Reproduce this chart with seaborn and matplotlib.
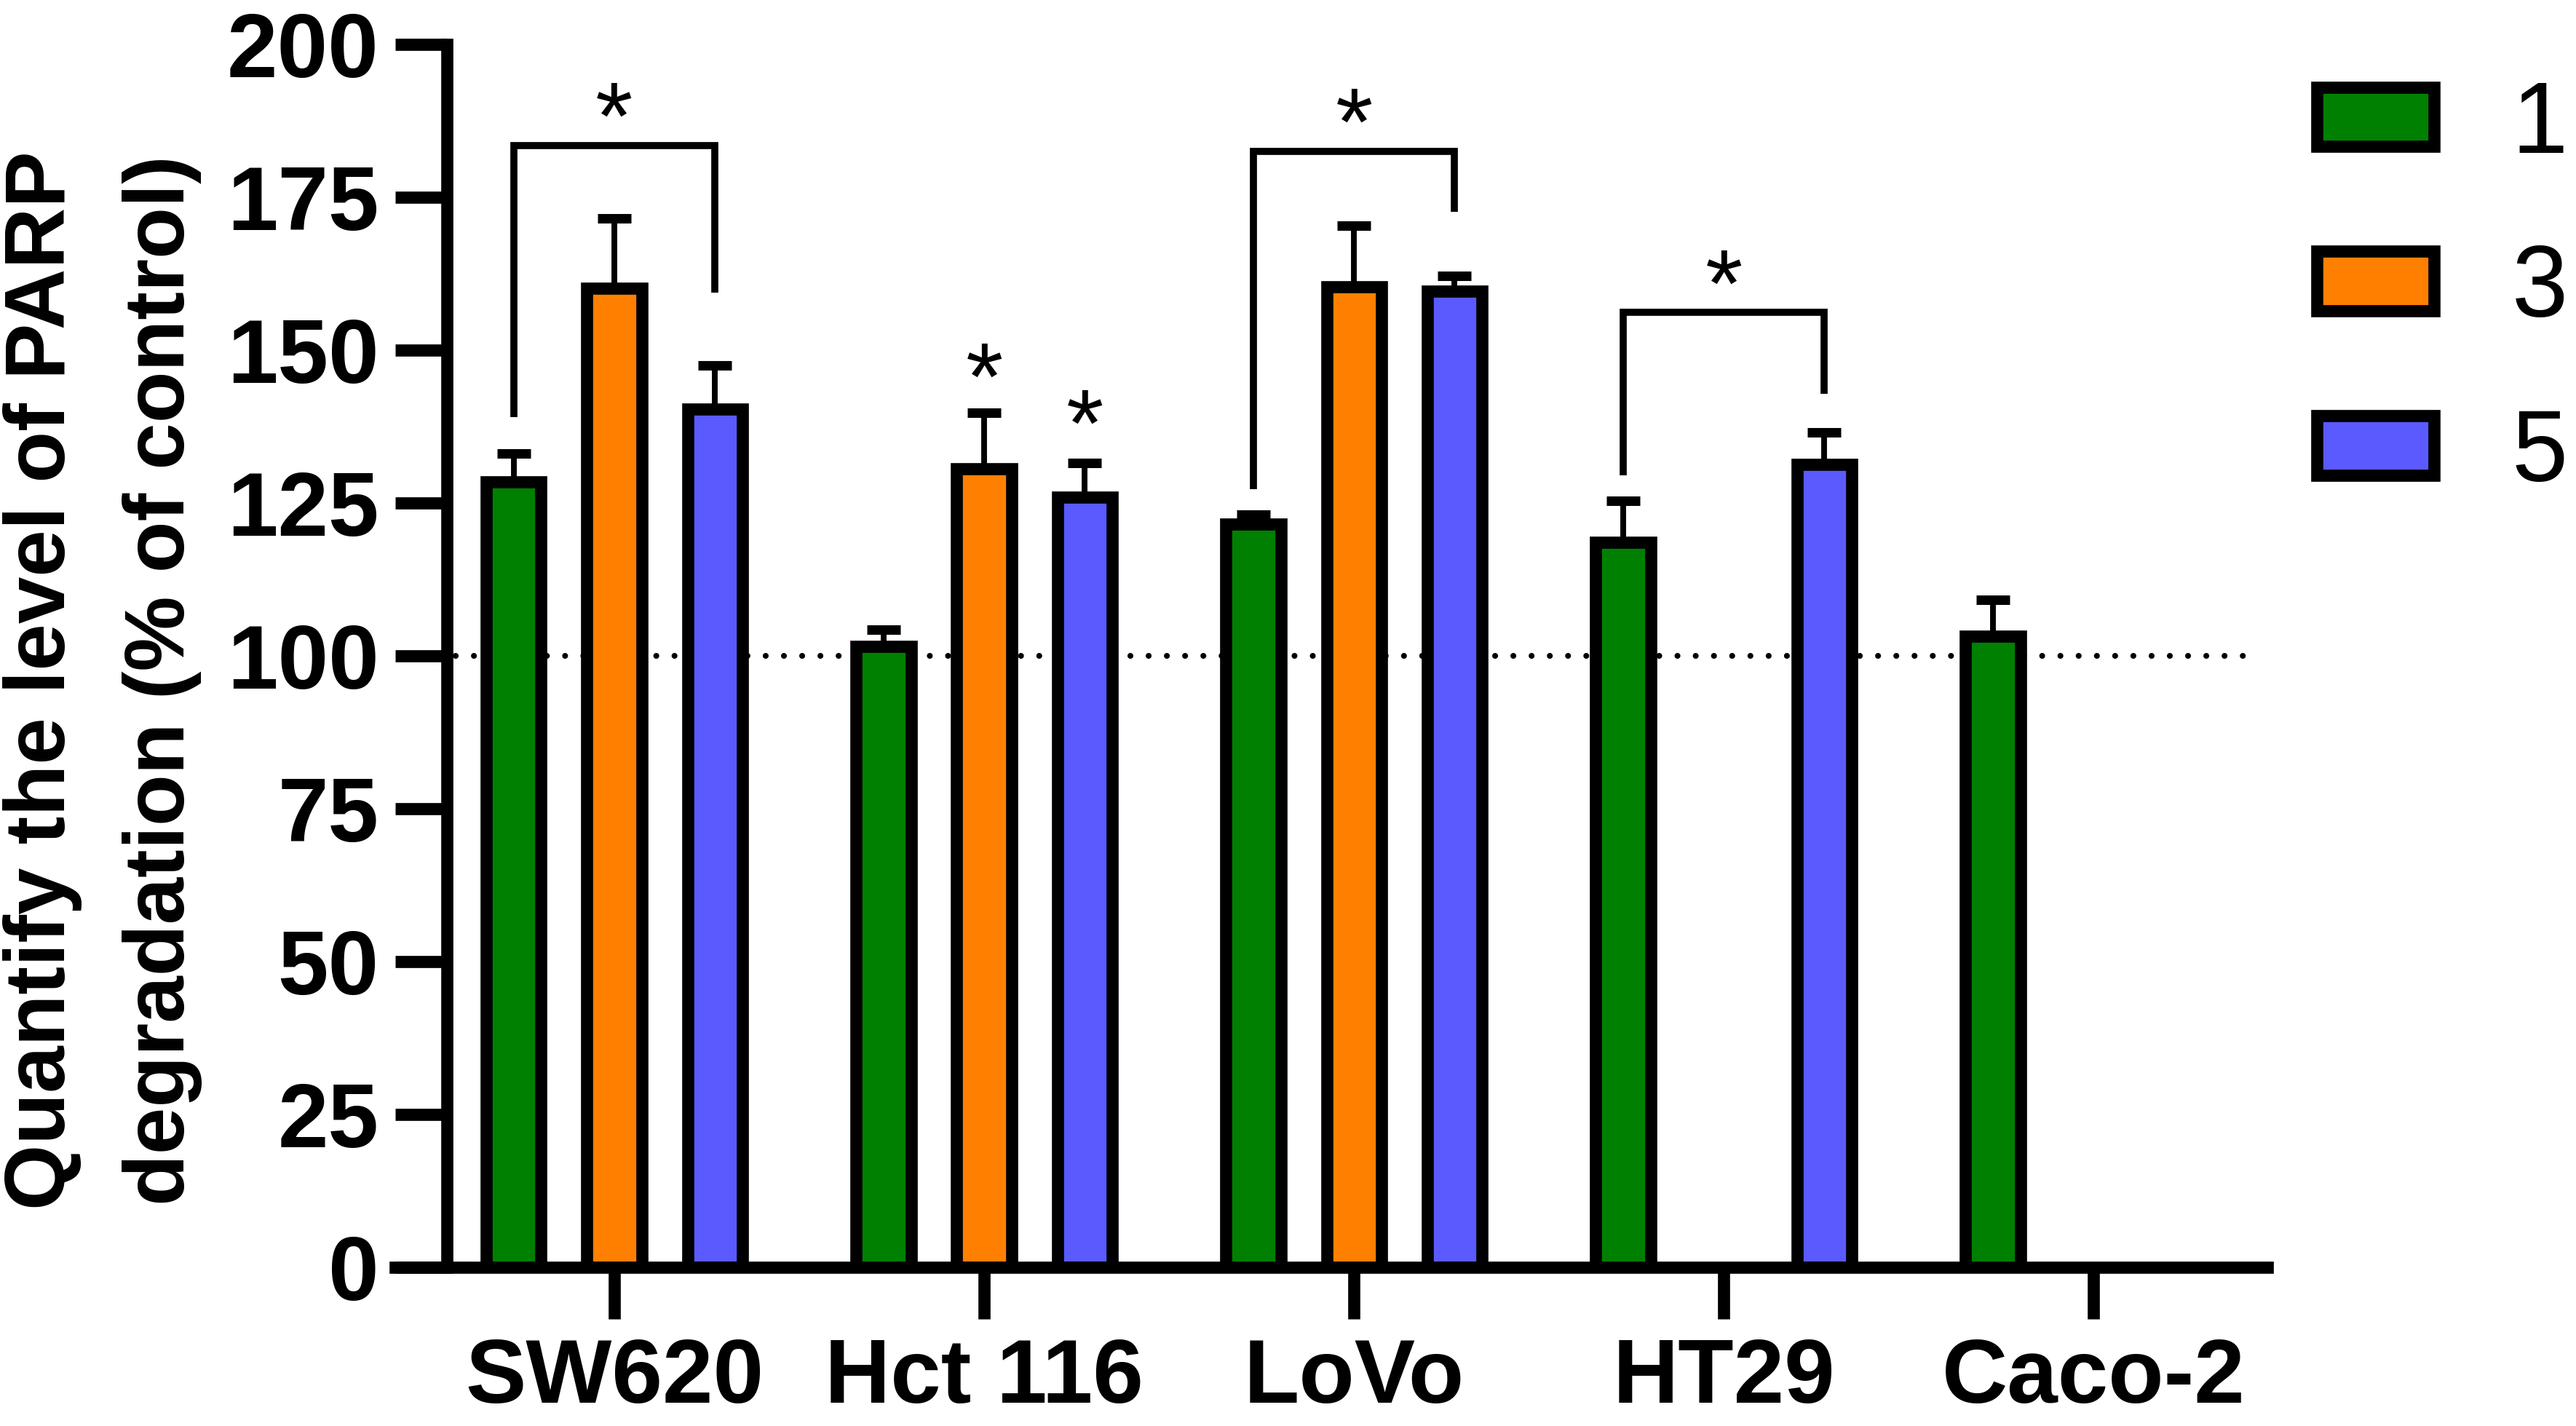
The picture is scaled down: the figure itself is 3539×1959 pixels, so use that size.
import matplotlib
matplotlib.use("Agg")
import pandas as pd
import seaborn as sns
import matplotlib.pyplot as plt
from matplotlib.patches import Patch

cell_lines = ["SW620", "Hct 116", "LoVo", "HT29", "Caco-2"]
doses = ["1", "3", "5"]
colors = ["#008000", "#FF8000", "#5A5AFF"]

# mean and upper SD per cell line for each dose (None = not measured)
mean_1 = [128.5, 101.5, 121.6, 118.6, 103.2]
mean_3 = [160.1, 130.6, 160.4, None, None]
mean_5 = [140.3, 126.0, 159.6, 131.3, None]
sd_1 = [4.6, 2.8, 1.5, 6.8, 6.0]
sd_3 = [11.5, 9.2, 9.9, None, None]
sd_5 = [7.2, 5.6, 2.5, 5.3, None]

control_level = 100

# brackets between dose 1 and dose 5
bracket_cells = ["SW620", "LoVo", "HT29"]
bracket_left = [139.0, 127.2, 129.5]
bracket_top = [183.5, 182.5, 156.2]
bracket_right = [159.4, 172.6, 142.9]
bracket_star = [192.4, 191.4, 165.0]

# single stars over bars
star_cells = ["Hct 116", "Hct 116"]
star_doses = ["3", "5"]
star_y = [149.8, 142.2]

rows = []
for dose, means, sds in zip(doses, [mean_1, mean_3, mean_5], [sd_1, sd_3, sd_5]):
    for cell, m, s in zip(cell_lines, means, sds):
        if m is not None:
            rows.append({"cell": cell, "dose": dose, "value": m, "sd": s})
df = pd.DataFrame(rows)

sns.set_style("ticks")
plt.rcParams["font.family"] = ["Liberation Sans", "DejaVu Sans"]
plt.rcParams["text.color"] = "black"
plt.rcParams["axes.labelcolor"] = "black"
plt.rcParams["xtick.color"] = "black"
plt.rcParams["ytick.color"] = "black"

fig = plt.figure(figsize=(35.39, 19.59), dpi=100)
ax = fig.add_axes([0.15343, 0.11128, 0.7268, 0.8576])

sns.barplot(data=df, x="cell", y="value", hue="dose", order=cell_lines,
            hue_order=doses, palette=colors, saturation=1, width=0.816,
            gap=0.455, edgecolor="black", linewidth=12, errorbar=None,
            legend=False, ax=ax)

# find where seaborn put each bar
pos = {}
for p in ax.patches:
    h = p.get_height()
    match = df[(df["value"] - h).abs() < 1e-9].iloc[0]
    pos[(match["cell"], match["dose"])] = (p.get_x() + p.get_width() / 2, h, match["sd"])

xs = [v[0] for v in pos.values()]
ys = [v[1] for v in pos.values()]
errs = [v[2] for v in pos.values()]
ax.errorbar(xs, ys, yerr=[[0] * len(errs), errs], fmt="none", ecolor="black",
            elinewidth=5.7, capsize=16.5, capthick=9.4, zorder=3)

ax.plot([-0.43, 4.43], [control_level, control_level], color="black", lw=5.8,
        ls=(0, (0.01, 3.1)), dash_capstyle="round", zorder=0.5)

for cell, yl, yt, yr, ys_ in zip(bracket_cells, bracket_left, bracket_top,
                                 bracket_right, bracket_star):
    x0 = pos[(cell, "1")][0]
    x1 = pos[(cell, "5")][0]
    ax.plot([x0, x0, x1, x1], [yl, yt, yt, yr], color="black", lw=7,
            solid_joinstyle="miter", solid_capstyle="butt", zorder=3)
    ax.text((x0 + x1) / 2, ys_ - 9.5, "*", ha="center", va="baseline",
            fontsize=95)

for cell, dose, y in zip(star_cells, star_doses, star_y):
    ax.text(pos[(cell, dose)][0], y - 9.5, "*", ha="center", va="baseline",
            fontsize=95)

ax.set_xlim(-0.5925, 4.47)
ax.set_ylim(0, 200)
ax.set_yticks(range(0, 201, 25))
sns.despine(ax=ax)
ax.spines["left"].set_position(("data", -0.453))
for side in ["left", "bottom"]:
    ax.spines[side].set_linewidth(12)
    ax.spines[side].set_color("black")
ax.tick_params(axis="both", direction="out", length=51, width=12,
               labelsize=90, color="black", labelcolor="black")
ax.tick_params(axis="y", pad=16)
ax.tick_params(axis="x", pad=18)
for lab in ax.get_xticklabels() + ax.get_yticklabels():
    lab.set_fontweight("bold")

ax.set_xlabel("")
ax.set_ylabel("Quantify the level of PARP\ndegradation (% of control)",
              fontsize=83.5, fontweight="bold", linespacing=1.65)
ax.yaxis.set_label_coords(-0.103, 0.4798)

handles = [Patch(facecolor=c, edgecolor="black", linewidth=12, label=d)
           for c, d in zip(colors, doses)]
ax.legend(handles=handles, loc="upper left", bbox_to_anchor=(0.8993, 0.9446),
          bbox_transform=fig.transFigure, frameon=False, fontsize=100,
          handlelength=1.16, handleheight=0.525, handletextpad=0.77,
          labelspacing=0.69, borderpad=0, borderaxespad=0)

fig.savefig("out.png", dpi=100)
